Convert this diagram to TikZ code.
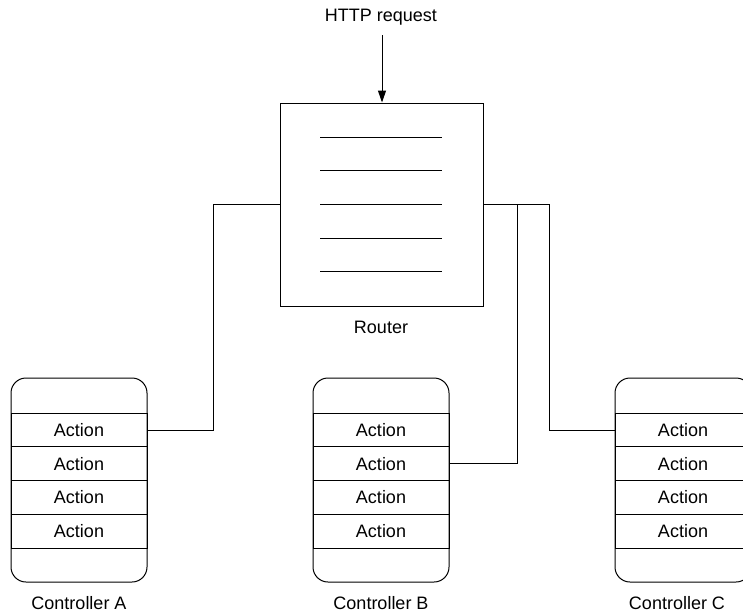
\documentclass[tikz,border=0pt]{standalone}
\usepackage{fontspec}
\setmainfont{Liberation Sans}
\usetikzlibrary{arrows.meta,positioning}
\begin{document}
\begin{tikzpicture}[x=1pt,y=-1pt,
  line width=1pt,
  lbl/.style={font=\fontsize{18}{21}\selectfont, inner sep=0pt},
  routerbox/.style={draw, minimum width=203pt, minimum height=203pt, inner sep=0pt},
  ctrlbox/.style={draw, rounded corners=15pt, minimum width=136pt, minimum height=204pt, inner sep=0pt},
  actioncell/.style={draw, minimum width=136pt, minimum height=33.75pt, inner sep=0pt, font=\fontsize{18}{21}\selectfont},
  wire/.style={line width=1pt}
]
\useasboundingbox (0,0) rectangle (743,613);
\clip (0,0) rectangle (743,613);

% HTTP request
\node[lbl] (http) at (381,17) {HTTP request};
\coordinate (arrtop) at (382,35);

% Router
\node[routerbox] (router) at (381.5,204.5) {};
\foreach \i/\yy in {1/137,2/170.5,3/204,4/238,5/271.5}{
  \coordinate (l\i a) at (320,\yy);
  \coordinate (l\i b) at (442,\yy);
  \draw (l\i a) -- (l\i b);
}
\node[lbl] (routerlbl) at (381,327) {Router};
\draw[-{Triangle[width=8pt,length=12pt]}] (arrtop) -- (arrtop |- router.north);

% Controllers
\foreach \c/\cx/\lx in {A/79/79, B/381/381, C/683/677}{
  \node[ctrlbox] (ctrl\c) at (\cx,480) {};
  \foreach \r/\ry in {1/430,2/463.75,3/497.5,4/531.25}{
    \node[actioncell] (\c\r) at (\cx,\ry) {Action};
  }
  \node[lbl] (lbl\c) at (\lx,603) {Controller \c};
}

% Connectors
\coordinate (ja) at (213,204);
\coordinate (jb) at (517,204);
\coordinate (jc) at (549,204);
\draw[wire] (router.west |- ja) -- (ja) |- (A1.east);
\draw[wire] (router.east |- jb) -- (jb) |- (B2.east);
\draw[wire] (jb) -- (jc) |- (C1.west);
\end{tikzpicture}
\end{document}
